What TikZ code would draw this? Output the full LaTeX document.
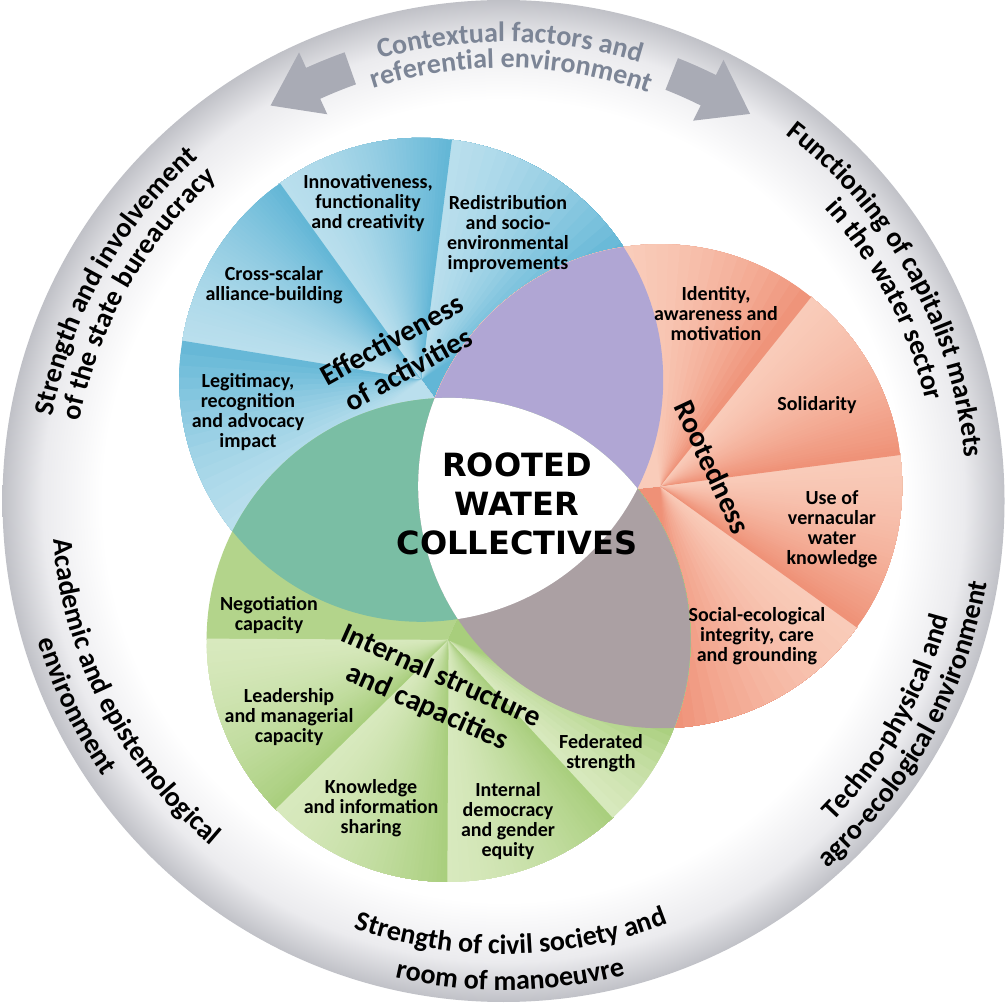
\documentclass[tikz,border=0pt]{standalone}
\usepackage{fontspec}
\setmainfont{Carlito}
\newfontfamily\dejavu{DejaVu Sans}
\usetikzlibrary{decorations.text}

\definecolor{ringgrey}{HTML}{C0C1C7}
\definecolor{ringmid}{HTML}{EBEBEE}
\definecolor{blueL}{HTML}{BADFED}
\definecolor{blueD}{HTML}{62B6D6}
\definecolor{orL}{HTML}{F9CCBA}
\definecolor{orD}{HTML}{EF9177}
\definecolor{grL}{HTML}{D8E9BE}
\definecolor{grD}{HTML}{A8CE7C}
\definecolor{grN}{HTML}{B3D48B}
\definecolor{lensP}{HTML}{B0A6D4}
\definecolor{lensT}{HTML}{7ABEA4}
\definecolor{lensM}{HTML}{ABA0A3}
\definecolor{arrowgrey}{HTML}{A9ABB5}
\definecolor{ctxgrey}{HTML}{7C8596}

\pgfdeclareradialshading{ringshade}{\pgfpointorigin}{color(0bp)=(white); color(20bp)=(white); color(23bp)=(ringmid); color(25bp)=(ringgrey); color(50bp)=(ringgrey)}

% #1 centre, #2 radius, #3 w1, #4 w2, #5 light angle, #6 dark angle, #7 light colour, #8 dark colour
% each sub-wedge runs to the end of the slice, later ones paint over earlier ones (no seams)
\newcommand\slicefill[8]{%
  \foreach \k in {0,...,47}{%
    \pgfmathsetmacro\aA{(#3)+((#4)-(#3))*\k/48-(\k==0)*0.3}%
    \pgfmathsetmacro\aM{(#3)+((#4)-(#3))*(\k+0.5)/48}%
    \pgfmathsetmacro\tpos{(\aM-(#5))/((#6)-(#5))}%
    \pgfmathsetmacro\tcl{max(0,min(1,\tpos))}%
    \pgfmathtruncatemacro\mixp{100*\tcl*(0.45+0.55*\tcl)}%
    \fill[#8!\mixp!#7] (#1) -- ++(\aA:#2) arc[start angle=\aA,end angle=#4,radius=#2] -- cycle;
  }%
}

% clockwise text (tops outward): radius, mid angle, format, text
\newcommand\cwtext[4]{%
  \pgfmathsetmacro\angS{#2+60}\pgfmathsetmacro\angE{#2-60}%
  \path[decorate,decoration={text along path,text align=center,text={|#3|#4}}]
    ([shift={(\angS:#1)}]R0) arc[start angle=\angS,end angle=\angE,radius=#1];%
}
% counter-clockwise text (tops inward)
\newcommand\ccwtext[4]{%
  \pgfmathsetmacro\angS{#2-60}\pgfmathsetmacro\angE{#2+60}%
  \path[decorate,decoration={text along path,text align=center,text={|#3|#4}}]
    ([shift={(\angS:#1)}]R0) arc[start angle=\angS,end angle=\angE,radius=#1];%
}
\newcommand\ringfont{\bfseries\fontsize{28}{30}\selectfont}
\newcommand\ctxfont{\bfseries\fontsize{28}{30}\selectfont\color{ctxgrey}}

\begin{document}
\begin{tikzpicture}[x=1pt,y=1pt,
  sub/.style={align=center,font=\bfseries\fontsize{20}{20}\selectfont,inner sep=0pt},
  dimlbl/.style={align=center,font=\bfseries\fontsize{29.5}{34}\selectfont,inner sep=0pt},
  core/.style={align=center,font=\dejavu\bfseries\fontsize{32}{39}\selectfont,inner sep=0pt}]
\useasboundingbox (0,0) rectangle (1007,1002);
\fill[white] (0,0) rectangle (1007,1002);
\coordinate (R0) at (503.5,501);
\shade[shading=ringshade] (R0) circle (501);

% arrows
\fill[arrowgrey] ([shift={(109.5:442)}]R0) arc[start angle=109.5,end angle=114.5,radius=442]
  -- ([shift={(114.5:425)}]R0) -- ([shift={(120.5:459)}]R0) -- ([shift={(114.5:493)}]R0)
  -- ([shift={(114.5:476)}]R0) arc[start angle=114.5,end angle=109.5,radius=476] -- cycle;
\fill[arrowgrey] ([shift={(68.5:442)}]R0) arc[start angle=68.5,end angle=63.5,radius=442]
  -- ([shift={(63.5:425)}]R0) -- ([shift={(57.5:459)}]R0) -- ([shift={(63.5:493)}]R0)
  -- ([shift={(63.5:476)}]R0) arc[start angle=63.5,end angle=68.5,radius=476] -- cycle;

\coordinate (B) at (421.2,622.2);
\coordinate (O) at (660.2,515.8);
\coordinate (G) at (448.6,362.1);

% blue slices
\slicefill{B}{242}{-54}{83}{83}{33}{blueL}{blueD}
\slicefill{B}{242}{83}{126}{126}{83}{blueL}{blueD}
\slicefill{B}{242}{126}{171}{171}{126}{blueL}{blueD}
\slicefill{B}{242}{171}{306}{219}{171}{blueL}{blueD}
% orange slices
\slicefill{O}{242}{-174}{-35.4}{-35.4}{-86.7}{orL}{orD}
\slicefill{O}{242}{-35.4}{7.7}{7.7}{-35.4}{orL}{orD}
\slicefill{O}{242}{7.7}{51.7}{51.7}{7.7}{orL}{orD}
\slicefill{O}{242}{51.7}{186}{98.6}{51.7}{orL}{orD}
% green slices
\fill[grN] (G) -- ++(66:242) arc[start angle=66,end angle=180,radius=242] -- cycle;
\slicefill{G}{242}{180}{224.7}{180}{224.7}{grL}{grD}
\slicefill{G}{242}{224.7}{270}{224.7}{270}{grL}{grD}
\slicefill{G}{242}{270}{313}{270}{313}{grL}{grD}
\slicefill{G}{242}{313}{426}{313}{338.6}{grL}{grD}

% lenses
\begin{scope}\clip (B) circle (242); \fill[lensP] (O) circle (242);\end{scope}
\begin{scope}\clip (B) circle (242); \fill[lensT] (G) circle (242);\end{scope}
\begin{scope}\clip (O) circle (242); \fill[lensM] (G) circle (242);\end{scope}
\begin{scope}\clip (B) circle (242); \clip (O) circle (242); \fill[white] (G) circle (242);\end{scope}

% sub labels
\node[sub] (innov) at (368,799) {Innovativeness,\\functionality\\and creativity};
\node[sub] (redis) at (508,768) {Redistribution\\and socio-\\environmental\\improvements};
\node[sub] (cross) at (274,717) {Cross-scalar\\alliance-building};
\node[sub] (legit) at (248,590) {Legitimacy,\\recognition\\and advocacy\\impact};
\node[sub] (ident) at (716,688) {Identity,\\awareness and\\motivation};
\node[sub] (solid) at (817,597) {Solidarity};
\node[sub] (vern) at (832,473) {Use of\\vernacular\\water\\knowledge};
\node[sub] (socec) at (757,366) {Social-ecological\\integrity, care\\and grounding};
\node[sub] (negot) at (269,387) {Negotiation\\capacity};
\node[sub] (lead) at (289,285) {Leadership\\and managerial\\capacity};
\node[sub] (know) at (371,194) {Knowledge\\and information\\sharing};
\node[sub] (demo) at (508,181) {Internal\\democracy\\and gender\\equity};
\node[sub] (fed) at (601,249) {Federated\\strength};

% dimension labels
\node[dimlbl,rotate=29] (eff) at (400,648) {Effectiveness\\of activities};
\node[dimlbl,rotate=-65] (root) at (713,535) {Rootedness};
\node[dimlbl,rotate=-24] (intl) at (434,310) {Internal structure\\and capacities};
\node[core] (rwc) at (517,498) {ROOTED\\WATER\\COLLECTIVES};

% ring texts
\cwtext{459}{89.2}{\ctxfont}{Contextual factors and}
\cwtext{433}{89}{\ctxfont}{referential environment}
\cwtext{459}{150.5}{\ringfont}{Strength and involvement}
\cwtext{431}{150.5}{\ringfont}{of the state bureaucracy}
\cwtext{463}{28.9}{\ringfont}{Functioning of capitalist markets}
\cwtext{434}{27.8}{\ringfont}{in the water sector}
\ccwtext{460}{-29.4}{\ringfont}{Techno-physical and}
\ccwtext{490}{-29.1}{\ringfont}{agro-ecological environment}
\ccwtext{452}{207.3}{\ringfont}{Academic and epistemological}
\ccwtext{486}{205.6}{\ringfont}{environment}
\ccwtext{453}{271}{\ringfont}{Strength of civil society and}
\ccwtext{489}{270.8}{\ringfont}{room of manoeuvre}
\end{tikzpicture}
\end{document}
